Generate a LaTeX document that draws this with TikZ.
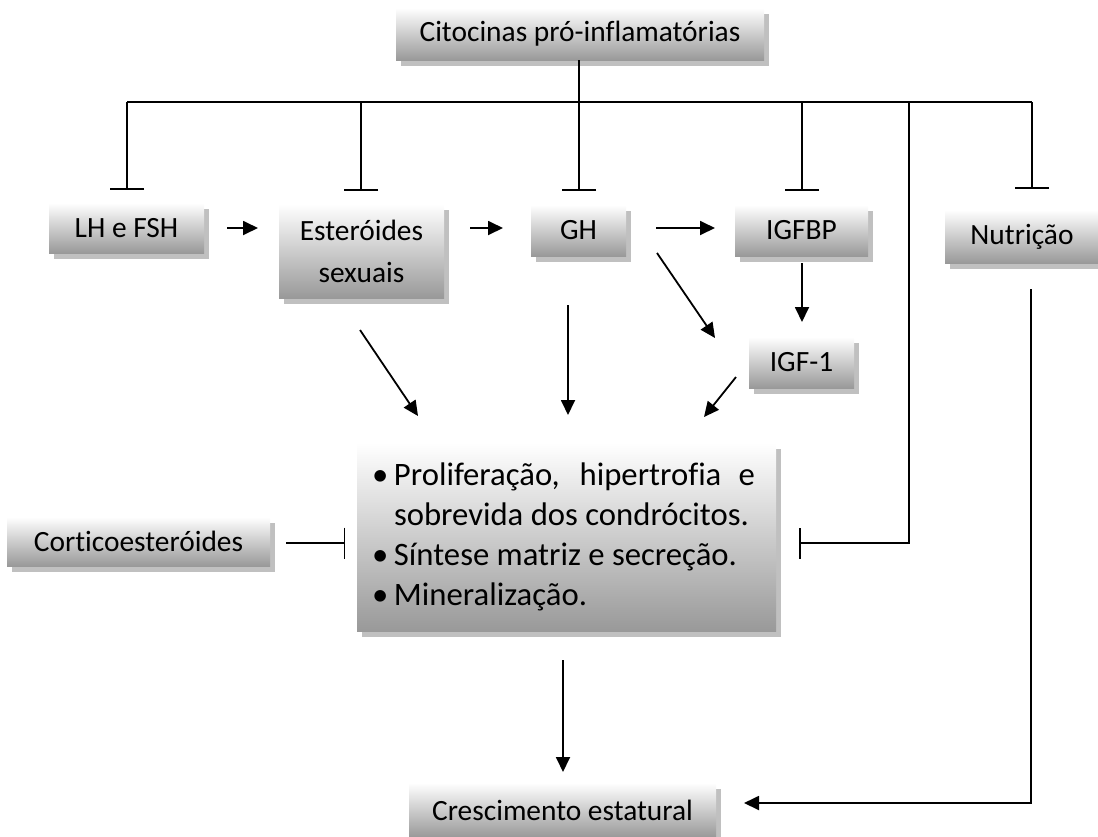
\documentclass[tikz,border=0pt]{standalone}
\usepackage{fontspec}
\setmainfont[Ligatures=NoCommon]{Carlito}
\usetikzlibrary{arrows.meta,shadows}
\definecolor{boxbot}{HTML}{999999}
\definecolor{shadowgray}{HTML}{C0C0C0}
\begin{document}
\begin{tikzpicture}[x=1pt,y=-1pt,
  box/.style={inner sep=0pt, top color=white, bottom color=boxbot,
    general shadow={fill=shadowgray, shadow xshift=5pt, shadow yshift=-6pt},
    font=\fontsize{29.4}{42}\selectfont, align=center},
  arr/.style={line width=1.8pt, -{Triangle[length=15pt,width=14pt]}},
  inh/.style={line width=1.5pt, -{Bar[width=34pt,line width=1.5pt]}},
  inhv/.style={line width=1.5pt, -{Bar[width=31pt,line width=1.5pt]}},
  bus/.style={line width=1.5pt}]
\useasboundingbox (0,0) rectangle (1098,836);

% boxes
\node[box, minimum width=368pt, minimum height=52pt] (cito) at (580,34) {Citocinas pró-inflamatórias};
\node[box, minimum width=155pt, minimum height=50pt] (lh) at (126.5,228) {LH e FSH};
\node[box, minimum width=165pt, minimum height=94pt] (est) at (361.5,251) {Esteróides\\sexuais};
\node[box, minimum width=95pt, minimum height=51pt] (gh) at (578.5,230.5) {GH};
\node[box, minimum width=133pt, minimum height=51pt] (igfbp) at (801.5,230.5) {IGFBP};
\node[box, minimum width=154pt, minimum height=53pt] (nut) at (1022,236.5) {Nutrição};
\node[box, minimum width=105pt, minimum height=51pt] (igf) at (801.5,362.5) {IGF-1};
\node[box, minimum width=263pt, minimum height=49pt] (cort) at (138.5,541.5) {Corticoesteróides};
\node[box, minimum width=307pt, minimum height=54pt] (cres) at (562.5,810) {Crescimento estatural};
\node[box, minimum width=419pt, minimum height=188pt, inner xsep=15pt,
      text width=389pt, align=flush left, font=\fontsize{32.7}{40}\selectfont] (main) at (566.5,537)
  {\makebox[22pt][l]{•}\makebox[361pt][s]{Proliferação, hipertrofia e}\\
   \hspace*{22pt}sobrevida dos condrócitos.\\
   \makebox[22pt][l]{•}Síntese matriz e secreção.\\
   \makebox[22pt][l]{•}Mineralização.};

% bus and inhibitions
\coordinate (cb) at (579,102);
\coordinate (dl) at (127,102);
\coordinate (de) at (361,102);
\coordinate (di) at (802,102);
\coordinate (dr) at (909,102);
\coordinate (dn) at (1032,102);
\draw[bus] (dl) -- (dn);
\draw[inh, shorten >=14pt] (cito.south -| cb) -- (cb |- gh.north);
\draw[inh, shorten >=13pt] (dl) -- (dl |- lh.north);
\draw[inh, shorten >=13pt] (de) -- (de |- est.north);
\draw[inh, shorten >=14pt] (di) -- (di |- igfbp.north);
\draw[inh, shorten >=21pt] (dn) -- (dn |- nut.north);
\coordinate (rinh) at (799,543);
\draw[inhv] (dr) |- (rinh);
\coordinate (linh) at (345,543);
\draw[inhv, shorten <=16pt] (cort.east |- linh) -- (linh);

% arrows
\coordinate (a1s) at (227,228); \coordinate (a1e) at (258,228);
\draw[arr] (a1s) -- (a1e);
\coordinate (a2s) at (470,228); \coordinate (a2e) at (503,228);
\draw[arr] (a2s) -- (a2e);
\coordinate (a3s) at (656,228); \coordinate (a3e) at (715,228);
\draw[arr] (a3s) -- (a3e);
\coordinate (a4s) at (802,263); \coordinate (a4e) at (802,322);
\draw[arr] (a4s) -- (a4e);
\coordinate (a5s) at (657,253); \coordinate (a5e) at (715,338);
\draw[arr] (a5s) -- (a5e);
\coordinate (a6s) at (360,330); \coordinate (a6e) at (418,416);
\draw[arr] (a6s) -- (a6e);
\coordinate (a7s) at (568,305); \coordinate (a7e) at (568,415);
\draw[arr] (a7s) -- (a7e);
\coordinate (a8s) at (736,377); \coordinate (a8e) at (704,417);
\draw[arr] (a8s) -- (a8e);
\coordinate (a9s) at (563,660); \coordinate (a9e) at (563,772);
\draw[arr] (a9s) -- (a9e);
\coordinate (n1) at (1031,289); \coordinate (n2) at (744,803);
\draw[arr] (n1) |- (n2);
\end{tikzpicture}
\end{document}
